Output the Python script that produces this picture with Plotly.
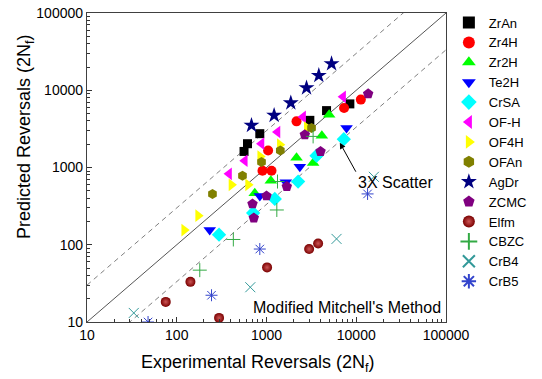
import plotly.graph_objects as go

# ---- data (experimental, predicted) ----
ZrAn_x = [562, 614, 842, 3040, 4667, 8486]
ZrAn_y = [1614, 2032, 2740, 4077, 5450, 6660]
Zr4H_x = [1042, 902, 1137, 2160, 7320, 11250]
Zr4H_y = [1663, 906, 906, 3957, 5905, 7570]
Zr2H_x = [4990, 4136, 2160, 3307, 1117, 740]
Zr2H_y = [4833, 2580, 1336, 1141, 672, 465]
Te2H_x = [7795, 2351, 1642, 842, 233]
Te2H_y = [3249, 1021, 646, 429, 155]
CrSA_x = [7270, 3609, 2250, 1237, 709, 296]
CrSA_y = [2324, 1419, 658, 392, 258, 135]
OFH_x = [7145, 2559, 1326, 880, 573, 383]
OFH_y = [8210, 4512, 2883, 2032, 1222, 828]
OF4H_x = [1407, 850, 407, 623, 173, 121, 2813]
OF4H_y = [1972, 1389, 596, 596, 238, 155, 3278]
OFAn_x = [540, 250, 880, 1425, 3176]
OFAn_y = [780, 455, 1175, 1663, 3249]
AgDr_x = [680, 1216, 1866, 2792, 3828, 5305]
AgDr_y = [3511, 4735, 6860, 10740, 15520, 22030]
ZCMC_x = [13570, 4000, 2673, 1684, 1000, 698, 722]
ZCMC_y = [8980, 1614, 2658, 566, 429, 338, 222]
Elfm_x = [142, 75.4, 296, 1015, 2985, 3760]
Elfm_y = [33.1, 18.2, 11.3, 50.9, 88, 104]
CBZC_x = [180.5, 427, 1303, 3307, 1326]
CBZC_y = [46.9, 117, 282, 2527, 658]
CrB4_x = [33.2, 660, 6030, 15710]
CrB4_y = [13.1, 28.2, 119, 757]
CrB5_x = [47.9, 244, 842, 13370]
CrB5_y = [10, 22.2, 88, 455]

line_x = [10, 100000]
tick_vals = [10, 100, 1000, 10000, 100000]
tick_text = ["10", "100", "1000", "10000", "100000"]
minor_vals = [m * 10 ** d for d in range(1, 5) for m in range(2, 10)]

series = [
    ("ZrAn", ZrAn_x, ZrAn_y, dict(symbol="square", color="#000000", size=9)),
    ("Zr4H", Zr4H_x, Zr4H_y, dict(symbol="circle", color="#ff0000", size=10)),
    ("Zr2H", Zr2H_x, Zr2H_y, dict(symbol="triangle-up", color="#00ff00", size=11)),
    ("Te2H", Te2H_x, Te2H_y, dict(symbol="triangle-down", color="#0000ff", size=11)),
    ("CrSA", CrSA_x, CrSA_y, dict(symbol="diamond", color="#00ffff", size=11)),
    ("OF-H", OFH_x, OFH_y, dict(symbol="triangle-left", color="#ff00ff", size=11)),
    ("OF4H", OF4H_x, OF4H_y, dict(symbol="triangle-right", color="#ffff00", size=11)),
    ("OFAn", OFAn_x, OFAn_y, dict(symbol="hexagon", color="#808000", size=10)),
    ("AgDr", AgDr_x, AgDr_y, dict(symbol="star", color="#000080", size=12)),
    ("ZCMC", ZCMC_x, ZCMC_y, dict(symbol="pentagon", color="#800080", size=11)),
    ("Elfm", Elfm_x, Elfm_y, dict(symbol="circle", color="#7a0000", size=10,
                                  gradient=dict(type="radial", color="#cc5555"))),
    ("CBZC", CBZC_x, CBZC_y, dict(symbol="cross-thin", size=10,
                                  line=dict(color="#33aa44", width=1))),
    ("CrB4", CrB4_x, CrB4_y, dict(symbol="x-thin", size=10,
                                  line=dict(color="#339999", width=1))),
    ("CrB5", CrB5_x, CrB5_y, dict(symbol="asterisk", size=10,
                                  line=dict(color="#3344cc", width=1))),
]

fig = go.Figure()

# reference lines: 1:1 and 3X scatter band
fig.add_trace(go.Scatter(x=line_x, y=line_x, mode="lines",
                         line=dict(color="#555555", width=1), showlegend=False, hoverinfo="skip"))
fig.add_trace(go.Scatter(x=line_x, y=[v * 3 for v in line_x], mode="lines",
                         line=dict(color="#808080", width=1, dash="5px,4px"), showlegend=False, hoverinfo="skip"))
fig.add_trace(go.Scatter(x=line_x, y=[v / 3 for v in line_x], mode="lines",
                         line=dict(color="#808080", width=1, dash="5px,4px"), showlegend=False, hoverinfo="skip"))

for name, xs, ys, mk in series:
    m = dict(mk)
    if "line" not in m:
        m["line"] = dict(width=0)
    fig.add_trace(go.Scatter(x=xs, y=ys, mode="markers", name=name, marker=m))

font_family = "Arial, Liberation Sans, sans-serif"

axis_common = dict(
    type="log",
    range=[1, 5],
    automargin=False,
    tickmode="array",
    tickvals=tick_vals,
    ticktext=tick_text,
    ticks="inside",
    ticklen=5,
    tickcolor="#333333",
    showline=True,
    linecolor="#404040",
    linewidth=1.3,
    mirror=True,
    showgrid=False,
    zeroline=False,
    tickfont=dict(family=font_family, size=14, color="#000000"),
    minor=dict(ticks="inside", ticklen=3, tickcolor="#333333",
               tickmode="array", tickvals=minor_vals, showgrid=False),
)

fig.update_xaxes(**axis_common)
fig.update_yaxes(**axis_common)

fig.update_layout(
    width=542,
    height=379,
    margin=dict(l=87, r=96, t=13, b=57, autoexpand=False),
    plot_bgcolor="white",
    paper_bgcolor="white",
    font=dict(family=font_family, color="#000000"),
    legend=dict(x=1.008, y=0.55, xanchor="left", yanchor="middle",
                font=dict(size=13, family=font_family), bgcolor="rgba(0,0,0,0)",
                borderwidth=0, itemsizing="constant"),
    annotations=[
        dict(text="Experimental Reversals (2N<sub>f</sub>)", xref="paper", yref="paper",
             x=(258 - 87) / 359, y=-(363 - 322) / 309, xanchor="center", yanchor="middle",
             showarrow=False, font=dict(size=18, family=font_family)),
        dict(text="Predicted Reversals (2N<sub>f</sub>)", xref="paper", yref="paper",
             x=-(87 - 25) / 359, y=(322 - 137) / 309, xanchor="center", yanchor="middle",
             textangle=-90, showarrow=False, font=dict(size=18, family=font_family)),
        dict(text="Modified Mitchell's Method", xref="paper", yref="paper",
             x=(443 - 87) / 359, y=(322 - 307) / 309, xanchor="right", yanchor="middle",
             showarrow=False, font=dict(size=16, family=font_family)),
        dict(text="3X Scatter", x=3.817, y=3.321, xref="x", yref="y",
             xanchor="left", yanchor="top",
             showarrow=True, ax=16, ay=29, arrowhead=2, arrowsize=1.2,
             arrowwidth=1, arrowcolor="#000000", font=dict(size=16, family=font_family)),
    ],
)

fig.write_html("out.html", config={"displayModeBar": False},
               post_script="document.body.style.margin='0';document.body.style.overflow='hidden';")
